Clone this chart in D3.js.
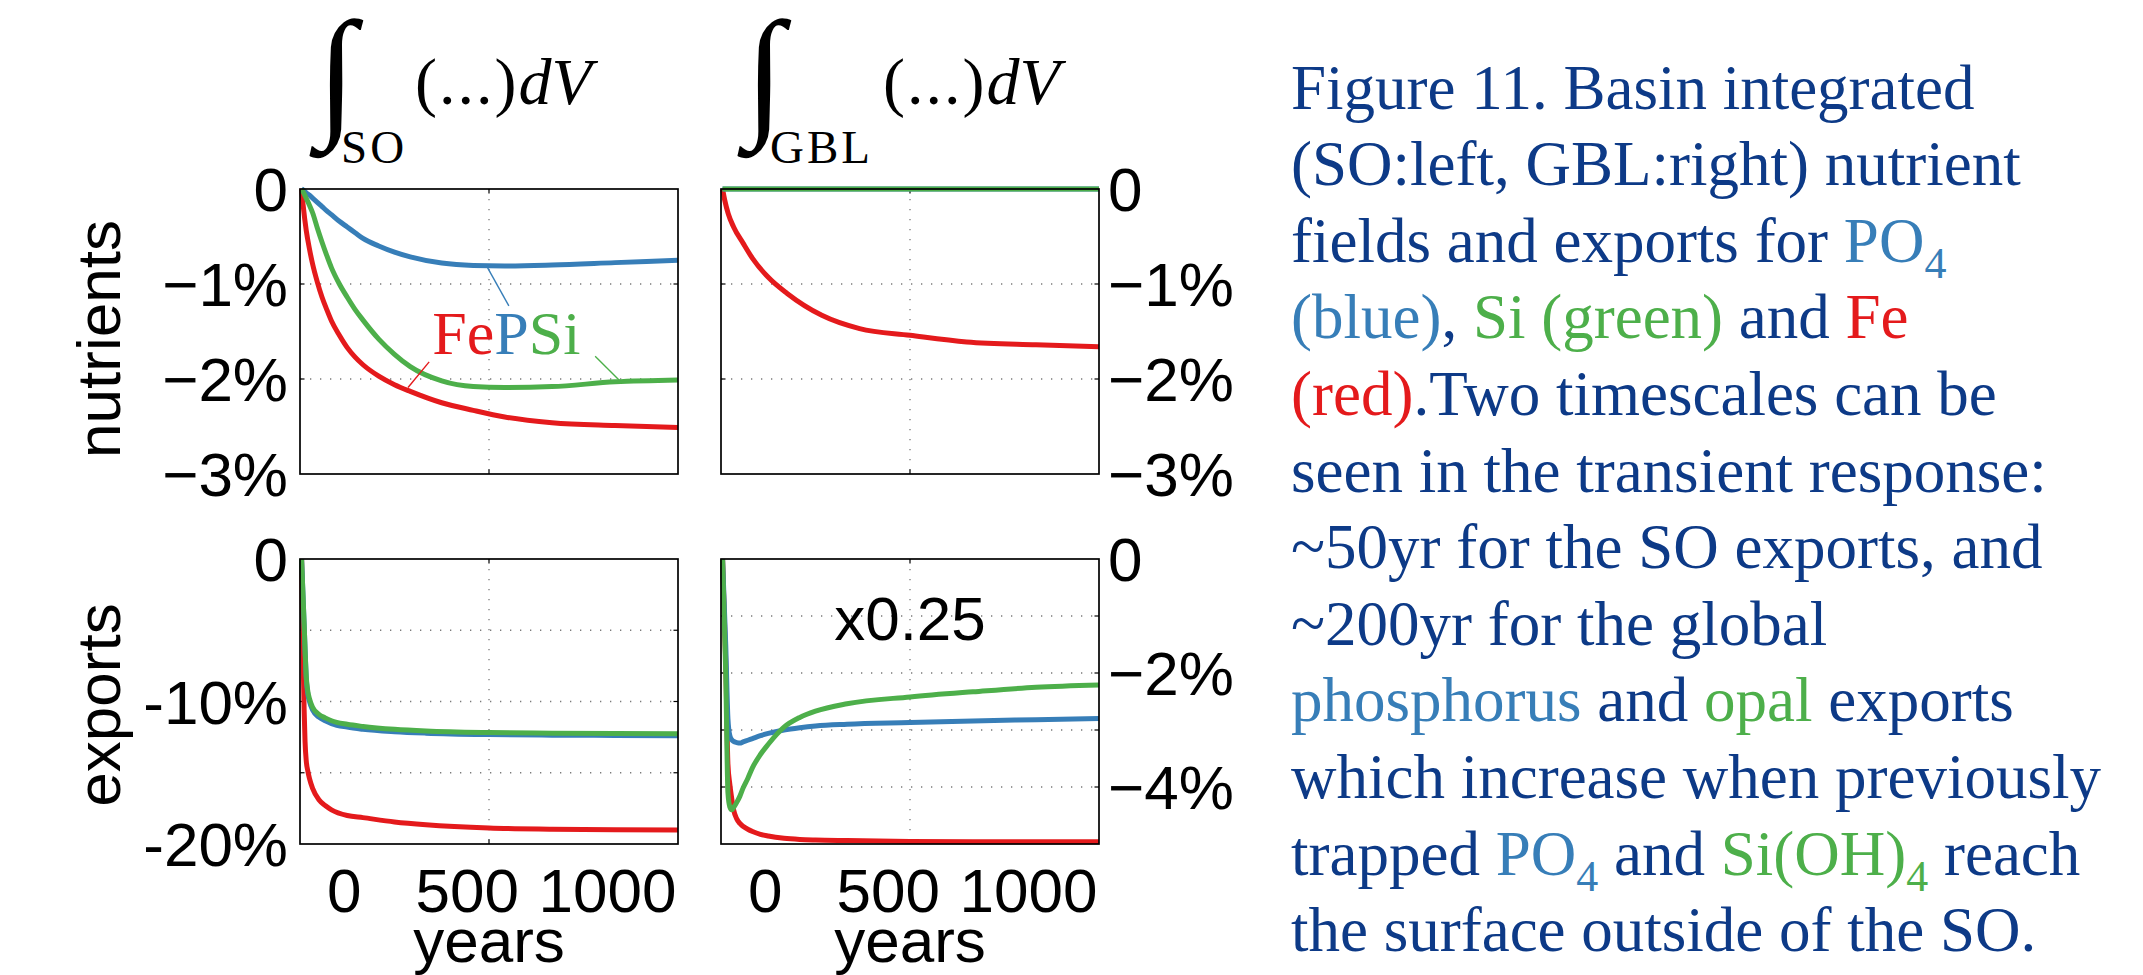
<!DOCTYPE html>
<head>
    <meta charset='utf-8'>
    <style>
        body {
            margin: 0;
            background: #fff;
        }

        svg text {
            font-family: 'Liberation Sans', Arial, Helvetica, sans-serif;
            fill: #000;
        }

        .serif {
            font-family: 'Liberation Serif', 'Times New Roman', serif !important;
        }

        .grid line {
            stroke: #7a7a7a;
            stroke-width: 1.3px;
            stroke-dasharray: 1.3 8.7;
        }

        .frame {
            fill: none;
            stroke: #000;
            stroke-width: 1.7px;
        }

        .tick-mark {
            stroke: #000;
            stroke-width: 1.2px;
        }

        .curve {
            fill: none;
            stroke-width: 5px;
            stroke-linejoin: round;
            stroke-linecap: butt;
        }

        .caption {
            white-space: pre;
        }
    </style>
</head>

<body>
<div id='vis'></div>
<script src='https://d3js.org/d3.v7.min.js'></script>
<script>
  // ---- data ----
  // Southern Ocean integrated nutrients (%)
  const soNutYears = [-95, -90, -80, -70, -60, -45, -30, -15, 0, 25, 50, 75, 100, 150, 200, 250, 350, 450, 550, 700, 900, 1100]
  const soNutP  = [0, -0.01, -0.04, -0.065, -0.095, -0.14, -0.185, -0.23, -0.27, -0.34, -0.40, -0.46, -0.52, -0.60, -0.665, -0.715, -0.78, -0.805, -0.81, -0.80, -0.775, -0.75]
  const soNutSi = [0, -0.03, -0.10, -0.17, -0.25, -0.41, -0.56, -0.70, -0.83, -1.00, -1.14, -1.27, -1.38, -1.58, -1.74, -1.87, -2.02, -2.08, -2.09, -2.08, -2.03, -2.01]
  const soNutFe = [0, -0.17, -0.44, -0.63, -0.79, -0.98, -1.14, -1.27, -1.39, -1.54, -1.67, -1.77, -1.85, -1.97, -2.06, -2.13, -2.25, -2.33, -2.40, -2.46, -2.49, -2.51]

  // global integrated nutrients (%)
  const gblNutYears = [-95, -88, -77, -60, -30, 0, 50, 110, 220, 340, 500, 680, 900, 1100]
  const gblNutP  = [0, 0, 0, 0, 0, 0, 0, 0, 0, 0, 0, 0, 0, 0]
  const gblNutSi = [0, 0, 0, 0, 0, 0, 0, 0, 0, 0, 0, 0, 0, 0]
  const gblNutFe = [0, -0.12, -0.26, -0.40, -0.57, -0.73, -0.93, -1.10, -1.33, -1.47, -1.54, -1.61, -1.64, -1.66]

  // Southern Ocean exports (%)
  const soExpYears = [-95, -90, -87, -84, -80, -75, -70, -60, -40, -20, 0, 50, 100, 200, 300, 500, 700, 900, 1100]
  const soExpP  = [0, -2.8, -4.5, -6.3, -8.4, -9.5, -10.0, -10.6, -11.1, -11.35, -11.55, -11.8, -11.95, -12.12, -12.22, -12.32, -12.36, -12.38, -12.4]
  const soExpSi = [0, -2.8, -4.5, -6.3, -8.3, -9.3, -9.8, -10.4, -10.9, -11.15, -11.35, -11.6, -11.75, -11.95, -12.07, -12.18, -12.22, -12.25, -12.27]
  const soExpFe = [0, -7.0, -10.5, -12.8, -14.2, -14.9, -15.4, -16.1, -16.9, -17.3, -17.6, -18.0, -18.15, -18.45, -18.65, -18.88, -18.96, -19.0, -19.02]

  // global exports (%), shown x0.25
  const gblExpYears = [-95, -85, -78, -72, -66, -60, -50, -40, -30, -15, 0, 25, 50, 100, 150, 200, 300, 500, 700, 900, 1100]
  const gblExpP  = [0, -1.5, -2.8, -3.1, -3.17, -3.2, -3.22, -3.23, -3.21, -3.18, -3.15, -3.1, -3.06, -3.0, -2.96, -2.93, -2.90, -2.87, -2.84, -2.82, -2.80]
  const gblExpSi = [0, -2.0, -4.1, -4.35, -4.40, -4.36, -4.27, -4.16, -4.02, -3.85, -3.66, -3.43, -3.25, -2.95, -2.78, -2.67, -2.54, -2.42, -2.33, -2.25, -2.21]
  const gblExpFe = [0, -1.8, -3.6, -3.95, -4.2, -4.40, -4.56, -4.64, -4.69, -4.74, -4.78, -4.83, -4.86, -4.90, -4.92, -4.93, -4.94, -4.955, -4.96, -4.96, -4.96]

  // axes
  const xTicks = [0, 500, 1000]
  const xGrid = [500]
  const nutTicks = [0, -1, -2, -3]
  const nutGrid = [-1, -2]
  const soExpTicks = [0, -10, -20]
  const soExpGrid = [-5, -10, -15]
  const gblExpTicks = [0, -2, -4]
  const gblExpGrid = [-1, -2, -3, -4]

  const colors = { Fe: '#e41a1c', P: '#377eb8', Si: '#4daf4a', ink: '#0d3a87' }

  const captionLines = [
    [['Figure 11. Basin integrated', 'ink']],
    [['(SO:left, GBL:right) nutrient', 'ink']],
    [['fields and exports for ', 'ink'], ['PO', 'P'], ['4', 'P', 'sub']],
    [['(blue)', 'P'], [', ', 'ink'], ['Si (green)', 'Si'], [' and ', 'ink'], ['Fe', 'Fe']],
    [['(red)', 'Fe'], ['.Two timescales can be', 'ink']],
    [['seen in the transient response:', 'ink']],
    [['~50yr for the SO exports, and', 'ink']],
    [['~200yr for the global', 'ink']],
    [['phosphorus', 'P'], [' and ', 'ink'], ['opal', 'Si'], [' exports', 'ink']],
    [['which increase when previously', 'ink']],
    [['trapped ', 'ink'], ['PO', 'P'], ['4', 'P', 'sub'], [' and ', 'ink'], ['Si(OH)', 'Si'], ['4', 'Si', 'sub'], [' reach', 'ink']],
    [['the surface outside of the SO.', 'ink']]
  ]

  // ---- layout ----
  const W = 2143, H = 975
  const colX = [300, 721]
  const rowY = [189, 559]
  const plotW = 378, plotH = 285
  const fontSize = 62

  const minus = '\u2212'
  const pct = sign => v => v === 0 ? '0' : sign + Math.abs(v) + '%'

  const panels = [
    { col: 0, row: 0, years: soNutYears, series: { Fe: soNutFe, P: soNutP, Si: soNutSi },
      yDomain: [-3, 0], yTicks: nutTicks, yGrid: nutGrid, fmt: pct(minus), side: 'left' },
    { col: 1, row: 0, years: gblNutYears, series: { Fe: gblNutFe, P: gblNutP, Si: gblNutSi },
      yDomain: [-3, 0], yTicks: nutTicks, yGrid: nutGrid, fmt: pct(minus), side: 'right' },
    { col: 0, row: 1, years: soExpYears, series: { Fe: soExpFe, P: soExpP, Si: soExpSi },
      yDomain: [-20, 0], yTicks: soExpTicks, yGrid: soExpGrid, fmt: pct('-'), side: 'left' },
    { col: 1, row: 1, years: gblExpYears, series: { Fe: gblExpFe, P: gblExpP, Si: gblExpSi },
      yDomain: [-5, 0], yTicks: gblExpTicks, yGrid: gblExpGrid, fmt: pct(minus), side: 'right' }
  ]

  const svg = d3.select('#vis')
    .append('svg')
    .attr('width', W)
    .attr('height', H)

  svg.append('rect').attr('width', W).attr('height', H).attr('fill', '#fff')

  panels.forEach(drawPanel)

  function drawPanel(p) {
    const x = d3.scaleLinear().domain([-100, 1100]).range([0, plotW])
    const y = d3.scaleLinear().domain(p.yDomain).range([plotH, 0])
    p.x = x
    p.y = y

    const g = svg.append('g')
      .attr('transform', `translate(${colX[p.col]}, ${rowY[p.row]})`)
    p.g = g

    // dotted grid
    const grid = g.append('g').attr('class', 'grid')
    grid.selectAll('.gy')
      .data(p.yGrid)
      .enter()
      .append('line')
      .attr('x1', 0).attr('x2', plotW)
      .attr('y1', y).attr('y2', y)
    grid.selectAll('.gx')
      .data(xGrid)
      .enter()
      .append('line')
      .attr('x1', x).attr('x2', x)
      .attr('y1', 0).attr('y2', plotH)

    // inward tick marks on all four sides (matlab style)
    const tl = 4.5
    p.yGrid.forEach(v => {
      g.append('line').attr('class', 'tick-mark').attr('x1', 0).attr('x2', tl).attr('y1', y(v)).attr('y2', y(v))
      g.append('line').attr('class', 'tick-mark').attr('x1', plotW).attr('x2', plotW - tl).attr('y1', y(v)).attr('y2', y(v))
    })
    xGrid.forEach(v => {
      g.append('line').attr('class', 'tick-mark').attr('x1', x(v)).attr('x2', x(v)).attr('y1', 0).attr('y2', tl)
      g.append('line').attr('class', 'tick-mark').attr('x1', x(v)).attr('x2', x(v)).attr('y1', plotH).attr('y2', plotH - tl)
    })

    // curves, red first, then blue, green on top
    const line = d3.line()
      .x(d => x(d[0]))
      .y(d => y(d[1]))
      .curve(d3.curveMonotoneX)

    ;['Fe', 'P', 'Si'].forEach(k => {
      const pts = p.years.map((yr, i) => [yr, p.series[k][i]])
      g.append('path')
        .attr('class', 'curve')
        .attr('d', line(pts))
        .attr('stroke', colors[k])
    })

    g.append('rect')
      .attr('class', 'frame')
      .attr('width', plotW)
      .attr('height', plotH)

    // y tick labels
    const yl = g.append('g')
    yl.selectAll('text')
      .data(p.yTicks)
      .enter()
      .append('text')
      .attr('x', p.side === 'left' ? -12 : plotW + 9)
      .attr('y', y)
      .attr('dy', '0.36em')
      .attr('text-anchor', p.side === 'left' ? 'end' : 'start')
      .attr('font-size', fontSize)
      .text(p.fmt)

    // x tick labels + title on the bottom row
    if (p.row === 1) {
      g.append('g')
        .selectAll('text')
        .data(xTicks)
        .enter()
        .append('text')
        .attr('x', d => x(d) + 30)
        .attr('y', plotH + 68)
        .attr('text-anchor', 'end')
        .attr('font-size', fontSize)
        .text(d => d)

      g.append('text')
        .attr('x', plotW / 2)
        .attr('y', plotH + 118)
        .attr('text-anchor', 'middle')
        .attr('font-size', fontSize)
        .text('years')
    }
  }

  // row labels
  ;[['nutrients', 0, 150], ['exports', 1, 146]].forEach(([t, row, off]) => {
    svg.append('text')
      .attr('transform', `translate(120, ${rowY[row] + off}) rotate(-90)`)
      .attr('text-anchor', 'middle')
      .attr('font-size', fontSize)
      .text(t)
  })

  // annotations inside panels
  const soNut = panels[0], gblExp = panels[3]
  const fe = soNut.g.append('text')
    .attr('class', 'serif')
    .attr('x', soNut.x(320))
    .attr('y', soNut.y(-1.74))
    .attr('font-size', fontSize)
  fe.append('tspan').attr('fill', colors.Fe).text('Fe')
  fe.append('tspan').attr('fill', colors.P).text('P')
  fe.append('tspan').attr('fill', colors.Si).text('Si')

  const leaders = [
    ['P', [563, -1.23], [494, -0.82]],
    ['Fe', [310, -1.82], [243, -2.09]],
    ['Si', [837, -1.76], [916, -2.02]]
  ]
  leaders.forEach(([k, a, b]) => {
    soNut.g.append('line')
      .attr('x1', soNut.x(a[0])).attr('y1', soNut.y(a[1]))
      .attr('x2', soNut.x(b[0])).attr('y2', soNut.y(b[1]))
      .attr('stroke', colors[k])
      .attr('stroke-width', 1.4)
  })

  gblExp.g.append('text')
    .attr('x', gblExp.x(500))
    .attr('y', gblExp.y(-1.42))
    .attr('text-anchor', 'middle')
    .attr('font-size', fontSize)
    .text('x0.25')

  // column titles: integral over the basin
  const ctx = document.createElement('canvas').getContext('2d')
  function fitGlyph(ch, family, box) {
    ctx.font = `100px ${family}`
    const m = ctx.measureText(ch)
    const inkH = m.actualBoundingBoxAscent + m.actualBoundingBoxDescent
    // uniform scale to the ink height, centred in the box
    const s = box.h / inkH
    const cx = box.x + box.w / 2
    const ox = cx - (m.actualBoundingBoxRight - m.actualBoundingBoxLeft) / 2 * s
    svg.append('text')
      .attr('transform', `translate(${ox}, ${box.y + m.actualBoundingBoxAscent * s}) scale(${s})`)
      .attr('font-size', 100)
      .style('font-family', family)
      .text(ch)
  }

  const titles = [
    { sub: 'SO', intX: 308, subX: 341, restX: 415 },
    { sub: 'GBL', intX: 736, subX: 770, restX: 883 }
  ]
  titles.forEach(t => {
    fitGlyph('\u222B', "'Liberation Serif'", { x: t.intX, y: 17, w: 56, h: 141 })
    svg.append('text')
      .attr('class', 'serif')
      .attr('x', t.subX)
      .attr('y', 163)
      .attr('font-size', 47)
      .attr('letter-spacing', 3)
      .text(t.sub)
    const r = svg.append('text')
      .attr('class', 'serif')
      .attr('x', t.restX)
      .attr('y', 104)
      .attr('font-size', 66)
    r.append('tspan').attr('letter-spacing', 2).text('(...)')
    r.append('tspan').attr('font-style', 'italic').text('dV')
  })

  // caption
  const cap = svg.append('g')
    .attr('class', 'caption serif')
  captionLines.forEach((parts, i) => {
    const t = cap.append('text')
      .attr('class', 'serif caption')
      .attr('x', 1291)
      .attr('y', 108.5 + i * 76.6)
      .attr('font-size', 63)
    let shifted = false
    parts.forEach(([s, c, sub]) => {
      const ts = t.append('tspan').attr('fill', colors[c]).text(s)
      if (sub) {
        ts.attr('dy', 16).attr('font-size', 44)
        shifted = true
      } else if (shifted) {
        ts.attr('dy', -16)
        shifted = false
      }
    })
  })
</script>
</body>
